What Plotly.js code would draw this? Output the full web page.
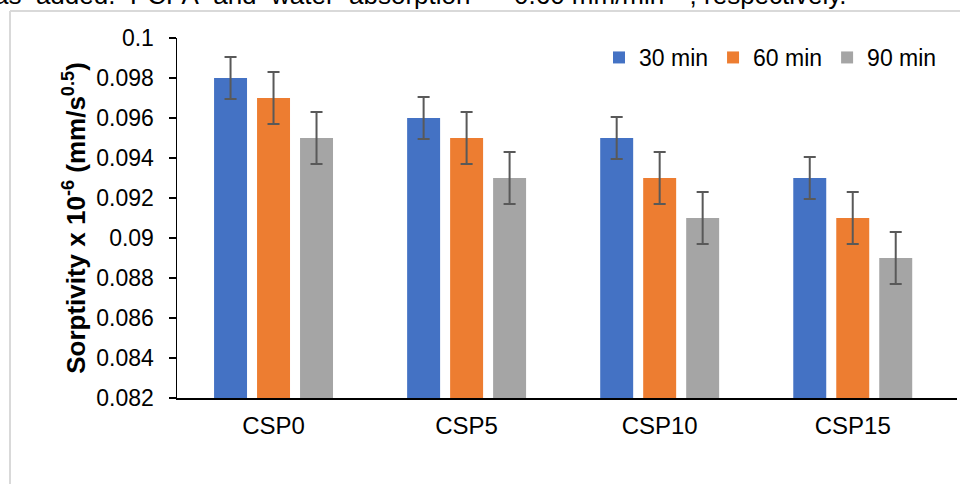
<!DOCTYPE html>
<html>
<head>
<meta charset="utf-8">
<script src="https://cdn.plot.ly/plotly-3.0.1.min.js"></script>
<style>
  html, body { margin: 0; padding: 0; background: #fff; }
  #chart { width: 960px; height: 484px; }
</style>
</head>
<body>
<div id="chart"></div>
<script>
// ---- data ----
const categories = ["CSP0", "CSP5", "CSP10", "CSP15"];
const seriesNames = ["30 min", "60 min", "90 min"];
const values30 = [0.098, 0.096, 0.095, 0.093];
const values60 = [0.097, 0.095, 0.093, 0.091];
const values90 = [0.095, 0.093, 0.091, 0.089];
const err30 = [0.00105, 0.00105, 0.00105, 0.00105];
const err60 = [0.0013, 0.0013, 0.0013, 0.0013];
const err90 = [0.0013, 0.0013, 0.0013, 0.0013];
const yTicks = [0.082, 0.084, 0.086, 0.088, 0.09, 0.092, 0.094, 0.096, 0.098, 0.1];
const yTickLabels = ["0.082", "0.084", "0.086", "0.088", "0.09", "0.092", "0.094", "0.096", "0.098", "0.1"];

const colors = ["#4472C4", "#ED7D31", "#A5A5A5"];
const allValues = [values30, values60, values90];
const allErr = [err30, err60, err90];

const FONT = "Arial, 'Liberation Sans', sans-serif";

const traces = seriesNames.map((name, i) => ({
  type: "bar",
  name: name,
  x: categories,
  y: allValues[i],
  marker: { color: colors[i] },
  error_y: { type: "data", array: allErr[i], visible: true, color: "#595959", thickness: 2, width: 6 }
}));

// layout geometry helpers (plot area: x 177..957, y 38..398)
const L = 177, R = 3, T = 38, B = 86, W = 960, H = 484;
const pw = W - L - R, ph = H - T - B;
const px = v => (v - L) / pw;
const py = v => 1 - (v - T) / ph;

const layout = {
  width: W, height: H,
  margin: { l: L, r: R, t: T, b: B, pad: 0 },
  paper_bgcolor: "#ffffff",
  plot_bgcolor: "#ffffff",
  font: { family: FONT, size: 23, color: "#000" },
  barmode: "group",
  bargap: 0.332,
  bargroupgap: 0.233,
  showlegend: true,
  legend: {
    orientation: "h",
    x: px(942), xanchor: "right",
    y: py(36), yanchor: "top",
    font: { family: FONT, size: 23, color: "#000" },
    bgcolor: "rgba(0,0,0,0)",
    traceorder: "normal"
  },
  xaxis: {
    type: "category",
    range: [-0.5, 3.54],
    showline: true, linecolor: "#000", linewidth: 1.5,
    ticks: "", showgrid: false, zeroline: false,
    tickfont: { family: FONT, size: 24, color: "#000" },
    ticklabelstandoff: 6,
    fixedrange: true
  },
  yaxis: {
    range: [0.082, 0.1],
    tickvals: yTicks, ticktext: yTickLabels,
    showline: true, linecolor: "#000", linewidth: 1.5,
    ticks: "outside", ticklen: 7, tickcolor: "#000", tickwidth: 1.5,
    showgrid: false, zeroline: false,
    tickfont: { family: FONT, size: 23, color: "#000" },
    ticklabelstandoff: 10,
    title: {
      text: "<b>Sorptivity x 10<sup>-6</sup> (mm/s<sup>0.5</sup>)</b>",
      font: { family: FONT, size: 26, color: "#000" },
      standoff: 3
    },
    fixedrange: true
  },
  shapes: [
    { type: "line", xref: "paper", yref: "paper", x0: px(10), x1: px(10), y0: py(11), y1: py(500),
      line: { color: "#D9D9D9", width: 2 } },
    { type: "line", xref: "paper", yref: "paper", x0: px(10), x1: px(980), y0: py(11), y1: py(11),
      line: { color: "#D9D9D9", width: 2 } }
  ],
  annotations: [
    { xref: "paper", yref: "paper", x: px(-8), y: py(12), xanchor: "left", yanchor: "bottom",
      showarrow: false, font: { family: FONT, size: 26, color: "#000" },
      text: "as\u00a0\u00a0added.\u00a0\u00a0PCPA\u00a0\u00a0and\u00a0\u00a0water\u00a0\u00a0absorption" },
    { xref: "paper", yref: "paper", x: px(512), y: py(12), xanchor: "left", yanchor: "bottom",
      showarrow: false, font: { family: FONT, size: 26, color: "#000" },
      text: "0.60 mm/min<sup>0.5</sup>, respectively." }
  ]
};

Plotly.newPlot("chart", traces, layout, { displayModeBar: false, staticPlot: true });
</script>
</body>
</html>
